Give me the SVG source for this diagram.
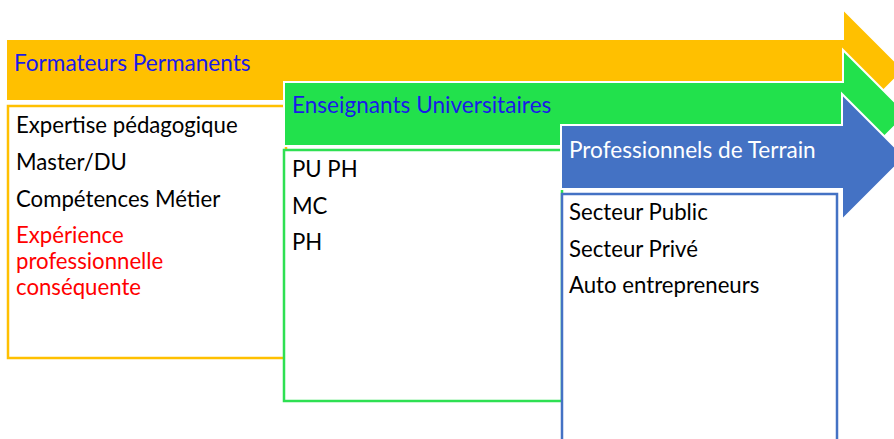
<svg xmlns="http://www.w3.org/2000/svg" width="894" height="439" viewBox="0 0 894 439">
  <style>
    .arrow { stroke: #ffffff; stroke-width: 2; stroke-linejoin: miter; }
    .box { fill: #ffffff; stroke-width: 2.5; }
    .head { font-family: Lato, "Open Sans", "Liberation Sans", sans-serif; font-size: 22.6px; }
    .item { font-family: Lato, "Open Sans", "Liberation Sans", sans-serif; font-size: 22.2px; fill: #000000; }
    .red { fill: #ff0000; }
  </style>
  <rect width="894" height="439" fill="#ffffff"/>

  <!-- Formateurs Permanents -->
  <g id="formateurs">
    <path class="arrow" fill="#ffc000" d="M6,39 H843 V9 L904,70 L843,131 V101 H6 Z"/>
    <text class="head" x="14" y="71" fill="#1a1ae8">Formateurs Permanents</text>
    <rect class="box" x="8" y="106" width="278" height="252" stroke="#ffc000"/>
    <text class="item" x="16" y="133">Expertise pédagogique</text>
    <text class="item" x="16" y="170">Master/DU</text>
    <text class="item" x="16" y="207">Compétences Métier</text>
    <text class="item red" x="16" y="243">Expérience</text>
    <text class="item red" x="16" y="269">professionnelle</text>
    <text class="item red" x="16" y="295">conséquente</text>
  </g>

  <!-- Enseignants Universitaires -->
  <g id="enseignants">
    <path class="arrow" fill="#22e14c" d="M284,82 H843 V50 L907,114 L843,178 V146 H284 Z"/>
    <text class="head" x="292" y="113" fill="#1a1ae8">Enseignants Universitaires</text>
    <rect class="box" x="284" y="150" width="278" height="251" stroke="#2ee052"/>
    <text class="item" x="292" y="177">PU PH</text>
    <text class="item" x="292" y="214">MC</text>
    <text class="item" x="292" y="250">PH</text>
  </g>

  <!-- Professionnels de Terrain -->
  <g id="professionnels">
    <path class="arrow" fill="#4472c4" d="M561,125 H842 V94 L905,157 L842,220 V189 H561 Z"/>
    <text class="head" x="569" y="158" fill="#ffffff">Professionnels de Terrain</text>
    <rect class="box" x="562" y="194" width="275" height="260" stroke="#4472c4"/>
    <text class="item" x="569" y="220">Secteur Public</text>
    <text class="item" x="569" y="257">Secteur Privé</text>
    <text class="item" x="569" y="293">Auto entrepreneurs</text>
  </g>

  <g id="connectors"/>
</svg>
